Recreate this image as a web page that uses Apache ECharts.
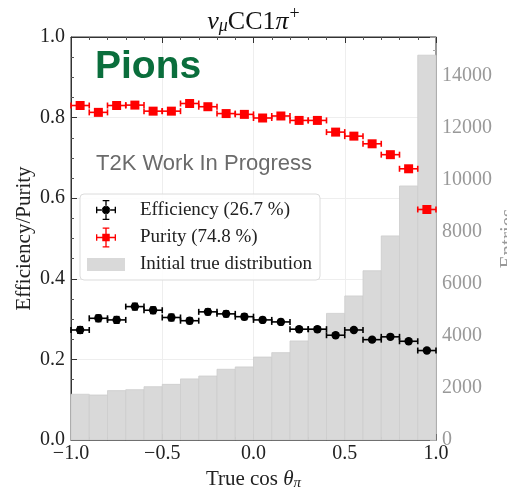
<!DOCTYPE html>
<html>
<head>
<meta charset="utf-8">
<script src="https://cdn.jsdelivr.net/npm/echarts@6/dist/echarts.min.js"></script>
<style>
html,body{margin:0;padding:0;background:#fff;}
#chart{width:507px;height:494px;}
</style>
</head>
<body>
<div id="chart"></div>
<script>
// ---- data ----
const binLow  = [-1.0,-0.9,-0.8,-0.7,-0.6,-0.5,-0.4,-0.3,-0.2,-0.1,0.0,0.1,0.2,0.3,0.4,0.5,0.6,0.7,0.8,0.9];
const binHigh = [-0.9,-0.8,-0.7,-0.6,-0.5,-0.4,-0.3,-0.2,-0.1,0.0,0.1,0.2,0.3,0.4,0.5,0.6,0.7,0.8,0.9,1.0];
const entries = [1760,1730,1900,1935,2050,2140,2350,2460,2720,2810,3190,3360,3810,4270,4870,5540,6510,7850,9770,14800];
const efficiency = [0.273,0.302,0.298,0.331,0.322,0.304,0.296,0.318,0.313,0.306,0.298,0.293,0.275,0.275,0.260,0.273,0.249,0.256,0.245,0.222];
const effErr     = [0.008,0.008,0.008,0.008,0.008,0.008,0.007,0.007,0.007,0.007,0.006,0.006,0.006,0.006,0.005,0.005,0.005,0.004,0.004,0.003];
const purity     = [0.830,0.813,0.830,0.831,0.816,0.816,0.835,0.827,0.810,0.808,0.799,0.804,0.793,0.793,0.764,0.754,0.735,0.708,0.673,0.572];
const purErr     = [0.007,0.007,0.007,0.007,0.006,0.006,0.006,0.006,0.006,0.006,0.005,0.005,0.005,0.005,0.005,0.005,0.004,0.004,0.004,0.003];
const leftTicks = [0.0,0.2,0.4,0.6,0.8,1.0];
const rightTicks = [0,2000,4000,6000,8000,10000,12000,14000];
const xTicks = [-1.0,-0.5,0.0,0.5,1.0];
const effName = 'Efficiency (26.7 %)';
const purName = 'Purity (74.8 %)';
const histName = 'Initial true distribution';

// ---- build ----
const serif = 'Liberation Serif';
const histData = binLow.map((lo,i)=>[lo, binHigh[i], entries[i]]);
const effData = binLow.map((lo,i)=>[(lo+binHigh[i])/2, efficiency[i], (binHigh[i]-lo)/2, effErr[i]]);
const purData = binLow.map((lo,i)=>[(lo+binHigh[i])/2, purity[i], (binHigh[i]-lo)/2, purErr[i]]);

function errRender(color, marker){
  return function(params, api){
    const x = api.value(0), y = api.value(1), xe = api.value(2), ye = api.value(3);
    const c = api.coord([x,y]);
    const l = api.coord([x-xe,y]), r = api.coord([x+xe,y]);
    const t = api.coord([x,y+ye]), b = api.coord([x,y-ye]);
    const st = {stroke: color, lineWidth: 1.6};
    const cap = 3;
    const ch = [
      {type:'line', shape:{x1:l[0],y1:l[1],x2:r[0],y2:r[1]}, style:st},
      {type:'line', shape:{x1:l[0],y1:l[1]-cap,x2:l[0],y2:l[1]+cap}, style:st},
      {type:'line', shape:{x1:r[0],y1:r[1]-cap,x2:r[0],y2:r[1]+cap}, style:st},
      {type:'line', shape:{x1:t[0],y1:t[1],x2:b[0],y2:b[1]}, style:st},
      {type:'line', shape:{x1:t[0]-cap,y1:t[1],x2:t[0]+cap,y2:t[1]}, style:st},
      {type:'line', shape:{x1:b[0]-cap,y1:b[1],x2:b[0]+cap,y2:b[1]}, style:st}
    ];
    if (marker === 'circle') {
      ch.push({type:'circle', shape:{cx:c[0], cy:c[1], r:4.2}, style:{fill:color}});
    } else {
      ch.push({type:'rect', shape:{x:c[0]-4.5, y:c[1]-4.5, width:9, height:9}, style:{fill:color}});
    }
    return {type:'group', children: ch};
  };
}

const bars = 'M3,14.2H10.5V15.8H3Z M19.5,14.2H27V15.8H19.5Z M14.2,3H15.8V10.5H14.2Z M14.2,19.5H15.8V27H14.2Z M3,11H4.6V19H3Z M25.4,11H27V19H25.4Z M11,3H19V4.6H11Z M11,25.4H19V27H11Z';
const crossCircle = 'path://' + bars + ' M10,15A5,5 0 1,0 20,15A5,5 0 1,0 10,15Z';
const crossSquare = 'path://' + bars + ' M10.5,10.5H19.5V19.5H10.5Z';
const histIcon = 'path://M0,0H38V13H0Z';

const fmtMinus = v => (v < 0 ? '\u2212' : '') + Math.abs(v).toFixed(1);

const option = {
  animation: false,
  backgroundColor: '#fff',
  title: {
    text: '{a|\u03bd}{sub|\u03bc}{b|CC1}{a|\u03c0}{sup|+}',
    left: 'center', top: 0,
    textStyle: {
      fontWeight: 'normal',
      rich: {
        a: {fontFamily: serif, fontStyle: 'italic', fontWeight: 'normal', fontSize: 26, color: '#111', verticalAlign: 'bottom'},
        b: {fontFamily: serif, fontWeight: 'normal', fontSize: 26, color: '#111', verticalAlign: 'bottom'},
        sub: {fontFamily: serif, fontStyle: 'italic', fontWeight: 'normal', fontSize: 18, color: '#111', padding: [8,0,0,0], verticalAlign: 'bottom'},
        sup: {fontFamily: serif, fontWeight: 'normal', fontSize: 18, color: '#111', padding: [0,0,12,1], verticalAlign: 'bottom'}
      }
    }
  },
  grid: {left: 71, right: 71, top: 37, bottom: 54, outerBoundsMode: 'none', containLabel: false,
    show: true, borderColor: '#333', borderWidth: 1, backgroundColor: 'transparent'},
  legend: {
    orient: 'vertical', left: 80, top: 194,
    padding: [6, 8, 6, 7],
    itemWidth: 38, itemHeight: 20, itemGap: 7.5,
    backgroundColor: 'rgba(255,255,255,0.85)', borderColor: '#dcdcdc', borderWidth: 1, borderRadius: 4,
    textStyle: {fontFamily: serif, fontSize: 19, color: '#222', padding: [0,0,0,10]},
    data: [
      {name: effName, icon: crossCircle, itemStyle: {color: '#000'}},
      {name: purName, icon: crossSquare, itemStyle: {color: '#ff0000'}},
      {name: histName, icon: histIcon, itemStyle: {color: '#d9d9d9'}}
    ]
  },
  graphic: [
    {type: 'text', left: 95, top: 48, style: {text: 'Pions', fontFamily: 'Liberation Sans', fontWeight: 'bold', fontSize: 39, fill: '#0a6e3c'}, z: 100},
    {type: 'text', left: 96, top: 153, style: {text: 'T2K Work In Progress', fontFamily: 'Liberation Sans', fontSize: 22, fill: '#6b6b6b'}, z: 100}
  ],
  xAxis: [
    {
      type: 'value', min: -1, max: 1, interval: 0.5, position: 'bottom',
      name: '{t|True cos }{i|\u03b8}{s|\u03c0}', nameLocation: 'middle', nameGap: 28, nameMoveOverlap: false,
      nameTextStyle: {rich: {
        t: {fontFamily: serif, fontSize: 21, color: '#222'},
        i: {fontFamily: serif, fontStyle: 'italic', fontSize: 21, color: '#222'},
        s: {fontFamily: serif, fontStyle: 'italic', fontSize: 15, color: '#222', padding: [8,0,0,0]}
      }},
      axisLine: {show: true, onZero: false, lineStyle: {color: '#333'}},
      axisTick: {show: true, inside: true, length: 6, lineStyle: {color: '#333'}},
      minorTick: {show: true, splitNumber: 5, length: 3, lineStyle: {color: '#555'}},
      axisLabel: {fontFamily: serif, fontSize: 20, color: '#222', margin: 4, formatter: fmtMinus},
      splitLine: {show: true, lineStyle: {color: '#eeeeee', width: 1}}
    },
    {
      type: 'value', min: -1, max: 1, interval: 0.5, position: 'top',
      axisLine: {show: true, onZero: false, lineStyle: {color: '#333'}},
      axisTick: {show: true, inside: true, length: 6, lineStyle: {color: '#333'}},
      minorTick: {show: true, splitNumber: 5, length: 3, lineStyle: {color: '#555'}},
      axisLabel: {show: false},
      splitLine: {show: false}
    }
  ],
  yAxis: [
    {
      type: 'value', min: 0, max: 1, interval: 0.2, position: 'left',
      name: 'Efficiency/Purity', nameLocation: 'middle', nameGap: 36, nameRotate: 90, nameMoveOverlap: false,
      nameTextStyle: {fontFamily: serif, fontSize: 21, color: '#222'},
      axisLine: {show: true, onZero: false, lineStyle: {color: '#333'}},
      axisTick: {show: true, inside: true, length: 6, lineStyle: {color: '#333'}},
      minorTick: {show: true, splitNumber: 4, length: 3, lineStyle: {color: '#555'}},
      axisLabel: {fontFamily: serif, fontSize: 20, color: '#222', margin: 6, formatter: v => v.toFixed(1)},
      splitLine: {show: true, lineStyle: {color: '#eeeeee', width: 1}}
    },
    {
      type: 'value', min: 0, max: 15500, interval: 2000, position: 'right',
      name: 'Entries', nameLocation: 'middle', nameGap: 62, nameRotate: 90, nameMoveOverlap: false,
      nameTextStyle: {fontFamily: serif, fontSize: 21, color: '#999'},
      axisLine: {show: true, onZero: false, lineStyle: {color: '#999'}},
      axisTick: {show: true, inside: true, length: 6, lineStyle: {color: '#999'}},
      minorTick: {show: true, splitNumber: 4, length: 3, lineStyle: {color: '#aaa'}},
      axisLabel: {fontFamily: serif, fontSize: 20, color: '#999', margin: 6, showMaxLabel: false,
        formatter: v => (rightTicks.indexOf(v) >= 0 ? String(v) : '')},
      splitLine: {show: false}
    }
  ],
  series: [
    {
      name: histName, type: 'custom', xAxisIndex: 0, yAxisIndex: 1, z: 1,
      itemStyle: {color: '#d9d9d9'},
      encode: {x: [0,1], y: 2},
      data: histData,
      renderItem: function(params, api){
        const p0 = api.coord([api.value(0), 0]);
        const p1 = api.coord([api.value(1), api.value(2)]);
        return {type: 'rect', shape: {x: p0[0], y: p1[1], width: p1[0]-p0[0], height: p0[1]-p1[1]},
          style: {fill: '#d9d9d9', stroke: '#cdcdcd', lineWidth: 0.8}};
      }
    },
    {
      name: effName, type: 'custom', xAxisIndex: 0, yAxisIndex: 0, z: 5,
      itemStyle: {color: '#000'},
      encode: {x: 0, y: 1},
      data: effData,
      renderItem: errRender('#000', 'circle')
    },
    {
      name: purName, type: 'custom', xAxisIndex: 0, yAxisIndex: 0, z: 5,
      itemStyle: {color: '#ff0000'},
      encode: {x: 0, y: 1},
      data: purData,
      renderItem: errRender('#ff0000', 'square')
    }
  ]
};

const chart = echarts.init(document.getElementById('chart'), null, {renderer: 'canvas'});
chart.setOption(option);
</script>
</body>
</html>
